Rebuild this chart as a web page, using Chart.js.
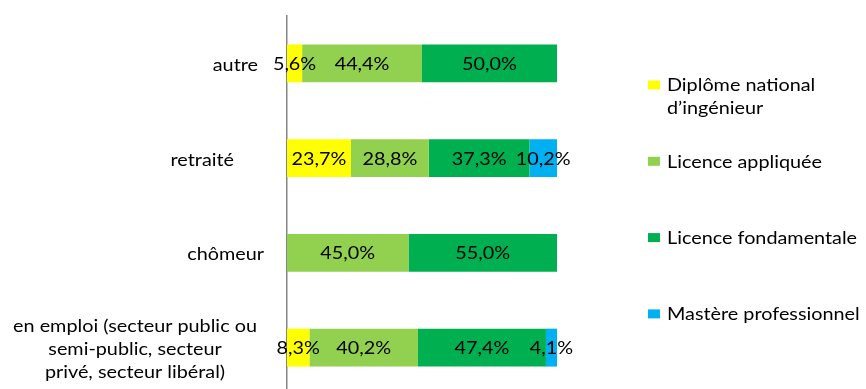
<!DOCTYPE html>
<html>
<head>
<meta charset="utf-8">
<script src="https://cdn.jsdelivr.net/npm/chart.js@4.4.0/dist/chart.umd.min.js"></script>
<style>
  html, body { margin: 0; padding: 0; background: #fff; overflow: hidden; }
  #wrap { width: 866px; height: 400px; }
</style>
</head>
<body>
<div id="wrap"><canvas id="chartCanvas"></canvas></div>
<script>
// categories, top to bottom
const categories = ["autre", "retraité", "chômeur", "en emploi (secteur public ou\nsemi-public, secteur\nprivé, secteur libéral)"];
const seriesNames = ["Diplôme national\nd’ingénieur", "Licence appliquée", "Licence fondamentale", "Mastère professionnel"];

// shares in %
const ingenieur = [5.6, 23.7, 0, 8.3];
const licenceAppliquee = [44.4, 28.8, 45.0, 40.2];
const licenceFondamentale = [50.0, 37.3, 55.0, 47.4];
const mastere = [0, 10.2, 0, 4.1];

const colors = ["#FFFF00", "#92D050", "#00B050", "#00B0F0"];
const FONT = "17px Lato";
const STRETCH = 1.165; // the original text is wider than Lato

// where each category label sits (right edge for one line, centre for several)
const labelAnchors = [
  { x: 258, align: "right" },
  { x: 234, align: "right" },
  { x: 264, align: "right" },
  { x: 135, align: "center" },
];

const fmt = (v) => v.toFixed(1).replace(".", ",") + "%";

function drawText(ctx, txt, x, y, align) {
  ctx.save();
  ctx.translate(x, y);
  ctx.scale(STRETCH, 1);
  ctx.textAlign = align;
  ctx.fillText(txt, 0, 0);
  ctx.restore();
}

const overlay = {
  id: "overlay",
  afterDatasetsDraw(chart) {
    const ctx = chart.ctx;
    const yScale = chart.scales.y;
    ctx.save();
    ctx.font = FONT;
    ctx.fillStyle = "#000";
    ctx.textBaseline = "middle";

    // value labels centred in every segment
    chart.data.datasets.forEach((ds, di) => {
      chart.getDatasetMeta(di).data.forEach((bar, i) => {
        const v = ds.data[i];
        if (!v) return;
        drawText(ctx, fmt(v), (bar.x + bar.base) / 2, bar.y + 1, "center");
      });
    });

    // category labels
    categories.forEach((c, i) => {
      const lines = c.split("\n");
      const yc = yScale.getPixelForValue(i);
      const lh = 23;
      lines.forEach((ln, k) => {
        drawText(ctx, ln, labelAnchors[i].x, yc + (k - (lines.length - 1) / 2) * lh + 2, labelAnchors[i].align);
      });
    });

    // legend
    const lx = 648, ly = 85, step = 76.3;
    seriesNames.forEach((name, i) => {
      const y = ly + i * step;
      ctx.fillStyle = colors[i];
      ctx.fillRect(lx, y - 4.5, 12, 9);
      ctx.fillStyle = "#000";
      name.split("\n").forEach((ln, k) => {
        drawText(ctx, ln, lx + 19, y + k * 23 + 1, "left");
      });
    });
    ctx.restore();
  },
};

const datasets = [ingenieur, licenceAppliquee, licenceFondamentale, mastere].map((d, i) => ({
  label: seriesNames[i],
  data: d,
  backgroundColor: colors[i],
  borderWidth: 0,
  barPercentage: 0.4,
  categoryPercentage: 1,
}));

new Chart(document.getElementById("chartCanvas"), {
  type: "bar",
  data: { labels: categories, datasets: datasets },
  plugins: [overlay],
  options: {
    indexAxis: "y",
    responsive: true,
    maintainAspectRatio: false,
    animation: false,
    layout: { padding: { left: 287, right: 309, top: 16, bottom: 5 } },
    plugins: { legend: { display: false }, tooltip: { enabled: false } },
    scales: {
      x: {
        stacked: true,
        min: 0,
        max: 100,
        display: false,
      },
      y: {
        stacked: true,
        grid: { display: false, drawTicks: false },
        border: { display: true, color: "#868686", width: 1.5 },
        ticks: { display: false },
      },
    },
  },
});
</script>
</body>
</html>
